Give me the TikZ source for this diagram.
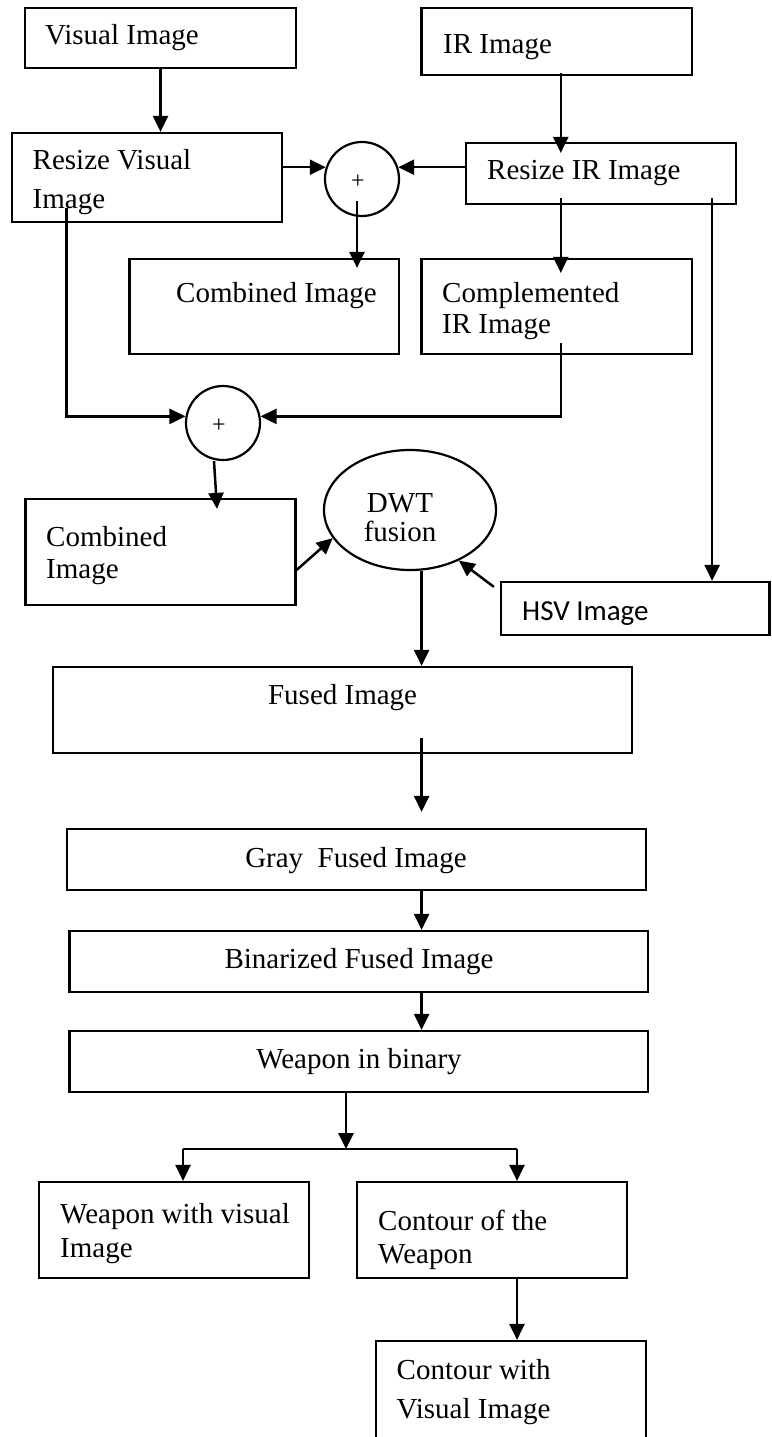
\documentclass[tikz,border=0pt]{standalone}
\usepackage{fontspec}
\setmainfont{Liberation Serif}
\newfontfamily\hsvfont{Carlito}
\usetikzlibrary{arrows.meta,shapes.geometric,calc}
\begin{document}
\begin{tikzpicture}[x=1pt,y=-1pt,
  box/.style={draw, line width=2.2pt, inner sep=0pt, rectangle},
  sumnode/.style={draw, line width=2.2pt, circle, inner sep=0pt, minimum size=74pt},
  tx/.style={inner sep=0pt, anchor=base west, font=\fontsize{29}{34}\selectfont},
  txc/.style={inner sep=0pt, anchor=base, font=\fontsize{29}{34}\selectfont},
  conn/.style={line width=2.5pt},
  arr/.style={line width=2.5pt, -{Triangle[length=16pt,width=15pt]}}]
\path[use as bounding box, clip] (0,0) rectangle (771,1437);
\fill[white] (0,0) rectangle (771,1437);

% boxes
\node[box, minimum width=271pt, minimum height=60pt] (vis) at (160.5,38) {};
\node[box, minimum width=270.5pt, minimum height=67pt] (ir) at (556.75,41.5) {};
\node[box, minimum width=270pt, minimum height=89pt] (rvis) at (147,177.5) {};
\node[box, minimum width=270pt, minimum height=61pt] (rir) at (601,173.5) {};
\node[sumnode] (c1) at (362,179) {};
\node[box, minimum width=269.5pt, minimum height=95pt] (comb1) at (264.25,306.5) {};
\node[box, minimum width=270.5pt, minimum height=95pt] (comp) at (556.75,306.5) {};
\node[sumnode] (c2) at (223,423) {};
\node[box, minimum width=270pt, minimum height=106pt] (comb2) at (160.5,552) {};
\node[draw, line width=2.2pt, ellipse, inner sep=0pt, minimum width=172pt, minimum height=120pt] (dwt) at (410,510) {};
\node[box, minimum width=268.5pt, minimum height=53pt] (hsv) at (635.25,608.5) {};
\node[box, minimum width=579pt, minimum height=86pt] (fused) at (342.5,710) {};
\node[box, minimum width=579pt, minimum height=61pt] (gray) at (356.5,859.5) {};
\node[box, minimum width=578.5pt, minimum height=61pt] (bin) at (358.75,961.5) {};
\node[box, minimum width=578.5pt, minimum height=61pt] (wb) at (358.75,1061.5) {};
\node[box, minimum width=270pt, minimum height=96pt] (wv) at (174,1230) {};
\node[box, minimum width=270pt, minimum height=96pt] (cw) at (492,1230) {};
\node[box, minimum width=270pt, minimum height=109pt] (cwv) at (511,1395.5) {};

% texts
\node[tx] (t1) at (45,45) {Visual Image};
\node[tx] (t2) at (443,53) {IR Image};
\node[tx] (t3) at (32.5,169) {Resize Visual};
\node[tx] (t4) at (32.5,208) {Image};
\node[tx] (t5) at (487,179) {Resize IR Image};
\node[inner sep=0pt, font=\fontsize{24}{28}\selectfont] (p1) at ($(c1)+(-4,3)$) {+};
\node[tx] (t6) at (176,302) {Combined Image};
\node[tx] (t7) at (442,302) {Complemented};
\node[tx] (t8) at (442,333) {IR Image};
\node[inner sep=0pt, font=\fontsize{24}{28}\selectfont] (p2) at ($(c2)+(-4,3)$) {+};
\node[tx] (t9) at (46,546) {Combined};
\node[tx] (t10) at (46,578) {Image};
\node[txc] (t11) at (400,512) {DWT};
\node[txc] (t12) at (400,541) {fusion};
\node[tx, font=\hsvfont\fontsize{29}{34}\selectfont] (t13) at (522,620) {HSV Image};
\node[txc] (t14) at (342.6,704) {Fused Image};
\node[txc] (t15) at (356,867) {Gray\ \ Fused Image};
\node[txc] (t16) at (359,968) {Binarized Fused Image};
\node[txc] (t17) at (359,1068) {Weapon in binary};
\node[tx] (t18) at (60,1223) {Weapon with visual};
\node[tx] (t19) at (60,1257) {Image};
\node[tx] (t20) at (378,1230) {Contour of the};
\node[tx] (t21) at (378,1263) {Weapon};
\node[tx] (t22) at (396.5,1379) {Contour with};
\node[tx] (t23) at (396.5,1418) {Visual Image};

% routing coordinates
\coordinate (irx) at ($(ir.south)+(4,0)$);
\coordinate (hx) at ($(rir.south east)+(-25,0)$);
\coordinate (sp) at ($(dwt.south)+(11.6,0)$);
\coordinate (jn) at ($(wb.south)+(-12.75,56)$);
\coordinate (wvx) at ($(wv.north)+(9,0)$);
\coordinate (cwx) at ($(cw.north)+(25,0)$);

% connectors
\draw[arr] (vis.south) -- (vis.south |- rvis.north);
\draw[arr] ($(irx)+(0,-3)$) -- ($(irx |- rir.north)+(0,11)$);
\draw[arr] (rvis.east |- c1.162) -- (c1.162);
\draw[arr] (rir.west |- c1.18) -- (c1.18);
\draw[arr] ($(c1.south)+(-5,-16)$) -- ($(c1.south |- comb1.north)+(-5,10)$);
\draw[arr] ($(irx |- rir.south)+(0,-7)$) -- ($(irx |- comp.north)+(0,15)$);
\draw[arr] ($(hx)+(0,-7)$) -- (hx |- hsv.north);
\draw[arr] ($(rvis.south west)+(55.5,-15)$) |- (c2.170);
\draw[arr] ($(irx |- comp.south)+(0,-12)$) |- (c2.10);
\draw[arr] ($(c2.south)+(-9,0)$) -- ($(c2.south |- comb2.north)+(-6,11)$);
\draw[arr] ($(comb2.east)+(0,18)$) -- (dwt.200);
\draw[arr] ($(hsv.north west)+(-6,6)$) -- (dwt.-46);
\draw[arr] (sp) -- (sp |- fused.north);
\draw[arr] ($(sp |- fused.south)+(0,-16)$) -- ($(sp |- gray.north)+(0,-16)$);
\draw[arr] (sp |- gray.south) -- (sp |- bin.north);
\draw[arr] (sp |- bin.south) -- (sp |- wb.north);
\draw[arr] (wb.south -| jn) -- (jn);
\draw[conn] (jn -| wvx) -- (jn -| cwx);
\draw[arr] (jn -| wvx) -- (wvx);
\draw[arr] (jn -| cwx) -- (cwx);
\draw[arr] (cwx |- cw.south) -- (cwx |- cwv.north);
\end{tikzpicture}
\end{document}
